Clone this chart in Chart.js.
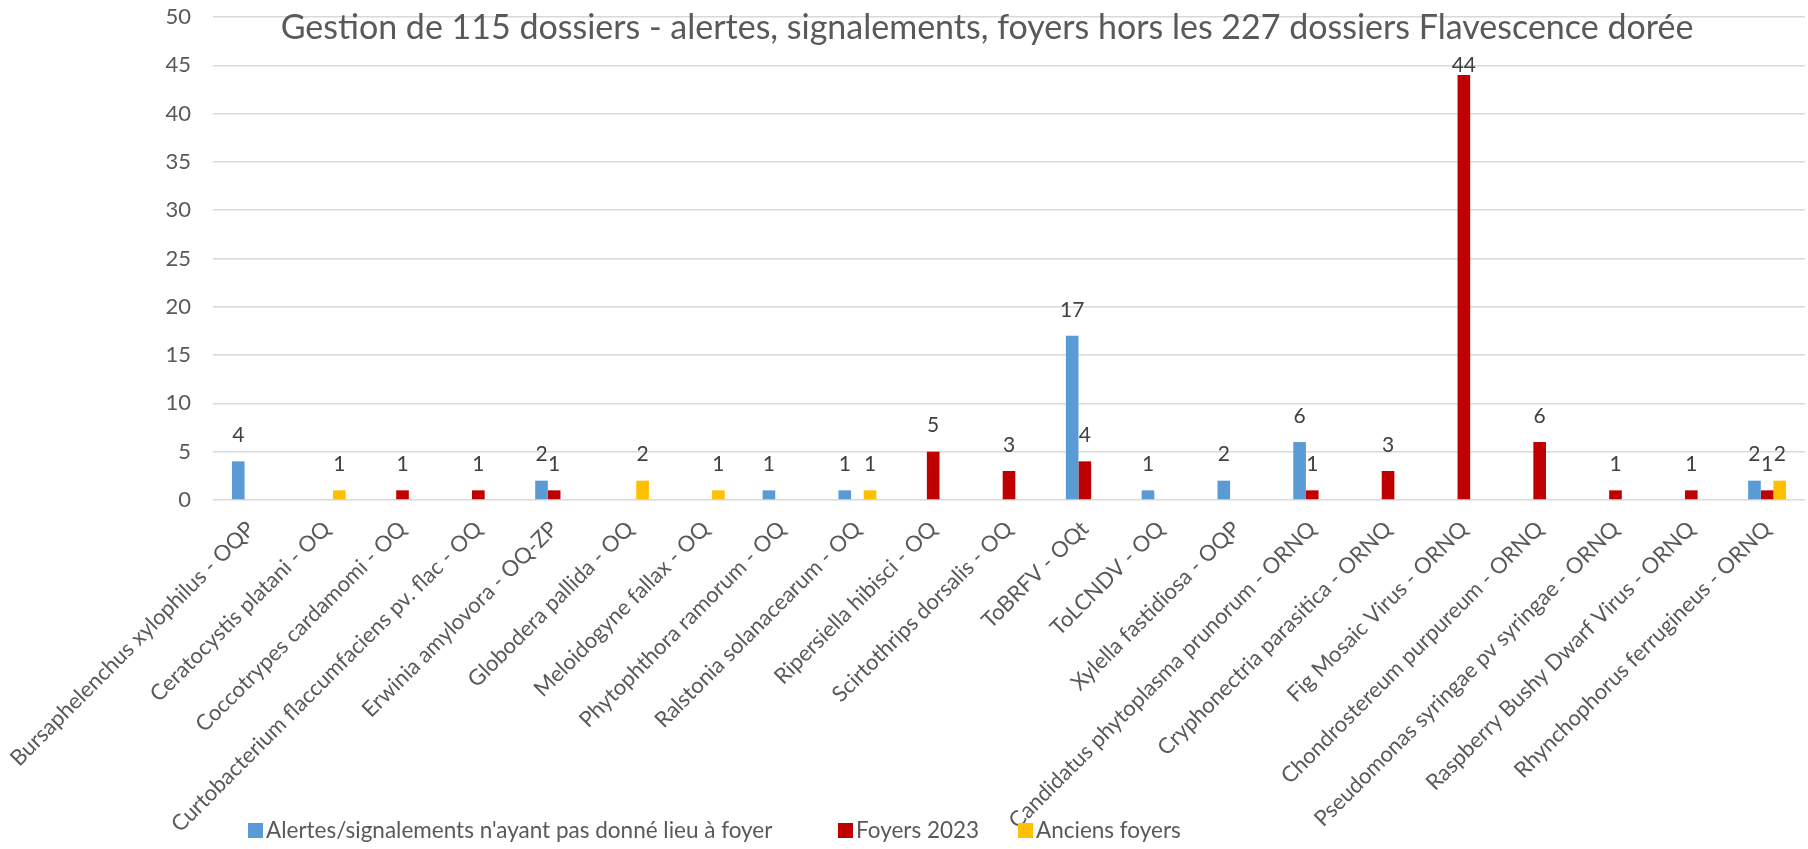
<!DOCTYPE html>
<html>
<head>
<meta charset="utf-8">
<script src="https://cdn.jsdelivr.net/npm/chart.js@4"></script>
<style>
  html, body { margin: 0; padding: 0; background: #fff; }
  #wrap { width: 1808px; height: 849px; position: relative; }
</style>
</head>
<body>
<div id="wrap"><canvas id="barChart"></canvas></div>
<script>
const titleText = 'Gestion de 115 dossiers - alertes, signalements, foyers hors les 227 dossiers Flavescence dorée';

const categories = [
  'Bursaphelenchus xylophilus - OQP',
  'Ceratocystis platani - OQ',
  'Coccotrypes cardamomi - OQ',
  'Curtobacterium flaccumfaciens pv. flac - OQ',
  'Erwinia amylovora - OQ-ZP',
  'Globodera pallida - OQ',
  'Meloidogyne fallax - OQ',
  'Phytophthora ramorum - OQ',
  'Ralstonia solanacearum - OQ',
  'Ripersiella hibisci - OQ',
  'Scirtothrips dorsalis - OQ',
  'ToBRFV - OQt',
  'ToLCNDV - OQ',
  'Xylella fastidiosa - OQP',
  'Candidatus phytoplasma prunorum - ORNQ',
  'Cryphonectria parasitica - ORNQ',
  'Fig Mosaic Virus - ORNQ',
  'Chondrostereum purpureum - ORNQ',
  'Pseudomonas syringae pv syringae - ORNQ',
  'Raspberry Bushy Dwarf Virus - ORNQ',
  'Rhynchophorus ferrugineus - ORNQ'
];

const alertes = [4, null, null, null, 2, null, null, 1, 1, null, null, 17, 1, 2, 6, null, null, null, null, null, 2];
const foyers2023 = [null, null, 1, 1, 1, null, null, null, null, 5, 3, 4, null, null, 1, 3, 44, 6, 1, 1, 1];
const anciensFoyers = [null, 1, null, null, null, 2, 1, null, 1, null, null, null, null, null, null, null, null, null, null, null, 2];

const yTicks = { min: 0, max: 50, step: 5 };

const seriesNames = ["Alertes/signalements n'ayant pas donné lieu à foyer", 'Foyers 2023', 'Anciens foyers'];
const seriesColors = ['#5B9BD5', '#C00000', '#FFC000'];

const FONT = 'Lato';
const legendX = [248, 838, 1018];

// title, value labels and legend are drawn by hand so they can overlap like the original
const extras = {
  id: 'extras',
  afterDatasetsDraw(chart) {
    const c = chart.ctx;
    const area = chart.chartArea;
    c.save();
    c.font = '21px ' + FONT;
    c.fillStyle = '#404040';
    c.textAlign = 'center';
    c.textBaseline = 'middle';
    chart.data.datasets.forEach((ds, i) => {
      const meta = chart.getDatasetMeta(i);
      meta.data.forEach((bar, j) => {
        const v = ds.data[j];
        if (v === null || v === undefined) return;
        let y = bar.y - 26;
        if (y < area.top + 48) y = bar.y - 10;
        c.fillText(String(v), bar.x, y);
      });
    });
    c.restore();
  },
  afterDraw(chart) {
    const c = chart.ctx;
    c.save();
    c.fillStyle = '#595959';
    c.font = '34px ' + FONT;
    c.textAlign = 'center';
    c.textBaseline = 'middle';
    c.fillText(titleText, 987, 28);

    // legend
    c.font = '22.5px ' + FONT;
    c.textAlign = 'left';
    const y = 831;
    seriesNames.forEach((name, i) => {
      const x = legendX[i];
      c.fillStyle = seriesColors[i];
      c.fillRect(x, y - 8, 15, 15);
      c.fillStyle = '#595959';
      c.fillText(name, x + 18, y);
    });
    c.restore();
  }
};

const ctx = document.getElementById('barChart').getContext('2d');
const barChart = new Chart(ctx, {
  type: 'bar',
  data: {
    labels: categories,
    datasets: [
      { label: seriesNames[0], data: alertes, backgroundColor: seriesColors[0] },
      { label: seriesNames[1], data: foyers2023, backgroundColor: seriesColors[1] },
      { label: seriesNames[2], data: anciensFoyers, backgroundColor: seriesColors[2] }
    ]
  },
  options: {
    responsive: true,
    maintainAspectRatio: false,
    animation: false,
    categoryPercentage: 0.5,
    barPercentage: 1.0,
    layout: { padding: { top: 17, right: 3, left: 0, bottom: 0 } },
    plugins: {
      legend: { display: false },
      title: { display: false },
      tooltip: { enabled: false }
    },
    scales: {
      x: {
        grid: { display: false },
        border: { display: false },
        ticks: {
          autoSkip: false,
          minRotation: 45,
          maxRotation: 45,
          padding: 8,
          color: '#595959',
          font: { family: FONT, size: 22 }
        },
        afterFit(s) { s.height = 349; }
      },
      y: {
        min: yTicks.min,
        max: yTicks.max,
        grid: { color: '#D9D9D9', lineWidth: 1.5, drawTicks: false },
        border: { display: false },
        ticks: {
          stepSize: yTicks.step,
          padding: 22,
          color: '#595959',
          font: { family: FONT, size: 22 }
        },
        afterFit(s) {
          s.width = 213;
          s.paddingTop = 10;
          s.paddingBottom = 10;
        }
      }
    }
  },
  plugins: [extras]
});
</script>
</body>
</html>
